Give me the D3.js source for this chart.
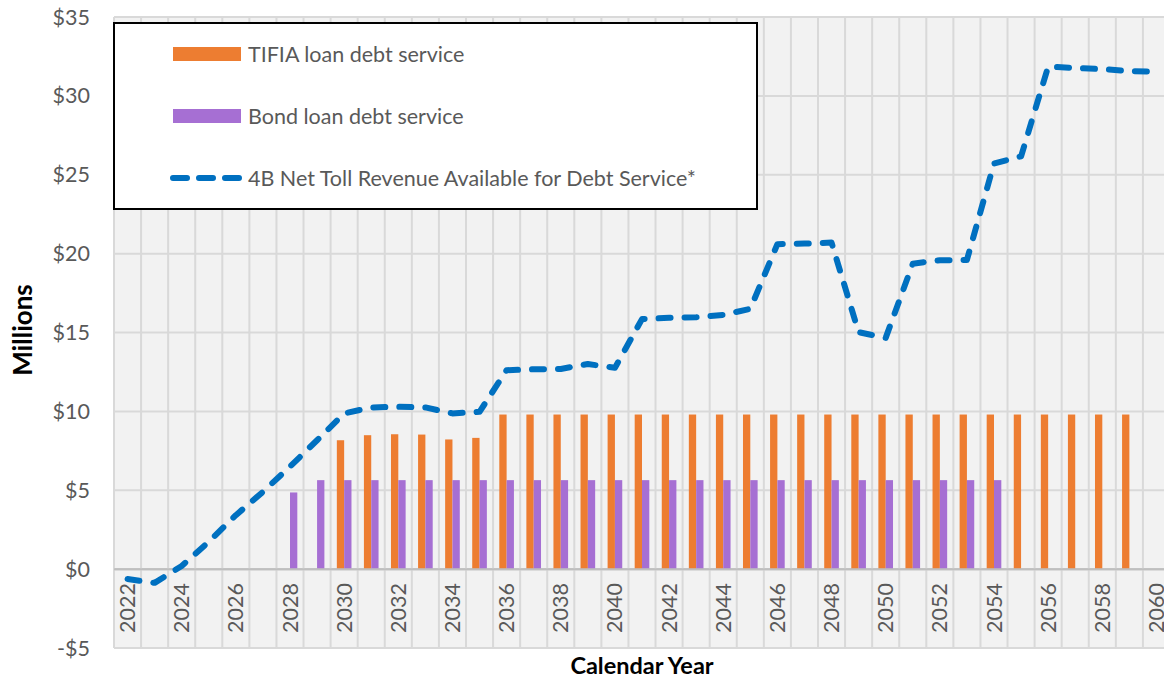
<!DOCTYPE html>
<html>
<head>
<meta charset="utf-8">
<script src="https://cdn.jsdelivr.net/npm/d3@7"></script>
<style>
  html, body { margin: 0; padding: 0; background: #ffffff; overflow: hidden; }
  svg { display: block; }
</style>
</head>
<body>
<svg id="chart" width="1164" height="679"></svg>
<script>
// ---- Data (values in $ millions) ----
const years = [2022, 2023, 2024, 2025, 2026, 2027, 2028, 2029, 2030, 2031,
               2032, 2033, 2034, 2035, 2036, 2037, 2038, 2039, 2040, 2041,
               2042, 2043, 2044, 2045, 2046, 2047, 2048, 2049, 2050, 2051,
               2052, 2053, 2054, 2055, 2056, 2057, 2058, 2059, 2060];

const tifiaDebtService = [null, null, null, null, null, null, null, null, 8.17, 8.49,
                          8.55, 8.53, 8.22, 8.32, 9.8, 9.8, 9.8, 9.8, 9.8, 9.8,
                          9.8, 9.8, 9.8, 9.8, 9.8, 9.8, 9.8, 9.8, 9.8, 9.8,
                          9.8, 9.8, 9.8, 9.8, 9.8, 9.8, 9.8, 9.8, null];

const bondDebtService = [null, null, null, null, null, null, 4.86, 5.64, 5.64, 5.64,
                         5.64, 5.64, 5.64, 5.64, 5.64, 5.64, 5.64, 5.64, 5.64, 5.64,
                         5.64, 5.64, 5.64, 5.64, 5.64, 5.64, 5.64, 5.64, 5.64, 5.64,
                         5.64, 5.64, 5.64, null, null, null, null, null, null];

const netTollRevenue = [-0.63, -0.87, 0.2, 1.73, 3.42, 4.9, 6.5, 8.17, 9.87, 10.25,
                        10.29, 10.25, 9.87, 9.97, 12.61, 12.67, 12.69, 13.0, 12.76, 15.85,
                        15.93, 15.97, 16.12, 16.5, 20.6, 20.64, 20.7, 15.02, 14.66, 19.36,
                        19.58, 19.6, 25.71, 26.17, 31.85, 31.77, 31.7, 31.56, 31.54];

const yTicks = [-5, 0, 5, 10, 15, 20, 25, 30, 35];
const xTickLabels = [2022, 2024, 2026, 2028, 2030, 2032, 2034, 2036, 2038, 2040,
                     2042, 2044, 2046, 2048, 2050, 2052, 2054, 2056, 2058, 2060];

const seriesNames = ["TIFIA loan debt service", "Bond loan debt service",
                     "4B Net Toll Revenue Available for Debt Service*"];
const xTitle = "Calendar Year";
const yTitle = "Millions";

// ---- Layout ----
const svg = d3.select("#chart");
const plot = { left: 114, right: 1170, top: 17, bottom: 648 };
const FONT = "Lato, 'Open Sans', sans-serif";
const colors = { tifia: "#ed7d31", bond: "#a66fd3", line: "#0070c0",
                 grid: "#d9d9d9", bg: "#f2f2f2", text: "#595959" };

const x = d3.scaleBand().domain(years).range([plot.left, plot.right]).padding(0);
const xSub = d3.scaleBand().domain(["tifia", "bond"])
  .range([0, x.bandwidth()]).paddingInner(0).paddingOuter(0.85);
const y = d3.scaleLinear().domain([-5, 35]).range([plot.bottom, plot.top]);

const rows = years.map((yr, i) => ({
  year: yr, tifia: tifiaDebtService[i], bond: bondDebtService[i], net: netTollRevenue[i]
}));

// background
svg.append("rect")
  .attr("x", plot.left).attr("y", plot.top)
  .attr("width", plot.right - plot.left).attr("height", plot.bottom - plot.top)
  .attr("fill", colors.bg);

// horizontal gridlines
svg.append("g").selectAll("line").data(yTicks).join("line")
  .attr("x1", plot.left).attr("x2", plot.right)
  .attr("y1", d => y(d)).attr("y2", d => y(d))
  .attr("stroke", d => d === 0 ? "#bfbfbf" : colors.grid)
  .attr("stroke-width", 2);

// vertical gridlines at category boundaries
const boundaries = years.map(yr => x(yr)).concat([x(years[years.length - 1]) + x.bandwidth()]);
svg.append("g").selectAll("line").data(boundaries).join("line")
  .attr("x1", d => d).attr("x2", d => d)
  .attr("y1", plot.top).attr("y2", plot.bottom)
  .attr("stroke", colors.grid).attr("stroke-width", 2);

// bars
const barG = svg.append("g");
barG.selectAll("rect.tifia").data(rows.filter(r => r.tifia != null)).join("rect")
  .attr("class", "tifia")
  .attr("x", d => x(d.year) + xSub("tifia"))
  .attr("width", xSub.bandwidth())
  .attr("y", d => y(d.tifia))
  .attr("height", d => y(0) - y(d.tifia))
  .attr("fill", colors.tifia);
barG.selectAll("rect.bond").data(rows.filter(r => r.bond != null)).join("rect")
  .attr("class", "bond")
  .attr("x", d => x(d.year) + xSub("bond"))
  .attr("width", xSub.bandwidth())
  .attr("y", d => y(d.bond))
  .attr("height", d => y(0) - y(d.bond))
  .attr("fill", colors.bond);

// zero line redrawn over bars bottom
svg.append("line")
  .attr("x1", plot.left).attr("x2", plot.right)
  .attr("y1", y(0)).attr("y2", y(0))
  .attr("stroke", "#bfbfbf").attr("stroke-width", 2);

// line
const lineGen = d3.line()
  .x(d => x(d.year) + x.bandwidth() / 2)
  .y(d => y(d.net))
  .curve(d3.curveLinear);
svg.append("path").datum(rows)
  .attr("d", lineGen)
  .attr("fill", "none")
  .attr("stroke", colors.line)
  .attr("stroke-width", 6)
  .attr("stroke-linecap", "round")
  .attr("stroke-linejoin", "round")
  .attr("stroke-dasharray", "12,14");

// y axis labels
svg.append("g").selectAll("text").data(yTicks).join("text")
  .attr("x", 90).attr("y", d => y(d))
  .attr("dy", "0.35em")
  .attr("text-anchor", "end")
  .attr("font-family", FONT).attr("font-size", 21.5)
  .attr("fill", colors.text)
  .text(d => (d < 0 ? "-$" + Math.abs(d) : "$" + d));

// x axis labels (rotated)
svg.append("g").selectAll("text").data(xTickLabels).join("text")
  .attr("transform", d => `translate(${x(d) + x.bandwidth() / 2},${y(0) + 14}) rotate(-90)`)
  .attr("text-anchor", "end")
  .attr("dy", "0.35em")
  .attr("font-family", FONT).attr("font-size", 21.5)
  .attr("fill", colors.text)
  .text(d => d);

// axis titles
svg.append("text")
  .attr("x", 642).attr("y", 674)
  .attr("text-anchor", "middle")
  .attr("font-family", FONT).attr("font-size", 23.5).attr("font-weight", "bold")
  .attr("fill", "#000").text(xTitle);
svg.append("text")
  .attr("transform", "translate(23,330) rotate(-90)")
  .attr("dy", "0.35em")
  .attr("text-anchor", "middle")
  .attr("font-family", FONT).attr("font-size", 26).attr("font-weight", "bold")
  .attr("fill", "#000").text(yTitle);

// legend
const lg = svg.append("g");
lg.append("rect")
  .attr("x", 114).attr("y", 23).attr("width", 643).attr("height", 186)
  .attr("fill", "#fff").attr("stroke", "#000").attr("stroke-width", 2);
const legendItems = [
  { name: seriesNames[0], type: "bar", color: colors.tifia, cy: 54 },
  { name: seriesNames[1], type: "bar", color: colors.bond, cy: 116 },
  { name: seriesNames[2], type: "line", color: colors.line, cy: 178 }
];
legendItems.forEach(it => {
  if (it.type === "bar") {
    lg.append("rect").attr("x", 173).attr("y", it.cy - 7).attr("width", 68).attr("height", 14)
      .attr("fill", it.color);
  } else {
    lg.append("line").attr("x1", 173).attr("x2", 240).attr("y1", it.cy).attr("y2", it.cy)
      .attr("stroke", it.color).attr("stroke-width", 6)
      .attr("stroke-linecap", "round").attr("stroke-dasharray", "14,12");
  }
  lg.append("text").attr("x", 248).attr("y", it.cy).attr("dy", "0.35em")
    .attr("font-family", FONT).attr("font-size", 21.5).attr("fill", colors.text)
    .text(it.name);
});
</script>
</body>
</html>
